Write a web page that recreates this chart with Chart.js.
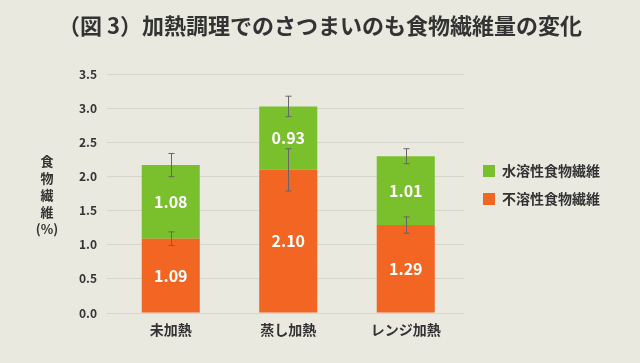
<!DOCTYPE html>
<html><head><meta charset="utf-8">
<script src="https://cdn.jsdelivr.net/npm/chart.js@4/dist/chart.umd.min.js"></script>
<style>html,body{margin:0;padding:0;background:#e9e9e0;overflow:hidden}</style>
</head><body><canvas id="c" width="640" height="363"></canvas>
<script>
const titleText = '（図 3）加熱調理でのさつまいのも食物繊維量の変化';
const categories = ['未加熱', '蒸し加熱', 'レンジ加熱'];
const insoluble = [1.09, 2.10, 1.29];
const soluble = [1.08, 0.93, 1.01];
const insolubleErr = [0.10, 0.31, 0.12];
const solubleErr = [0.17, 0.15, 0.11];
const seriesNames = ['不溶性食物繊維', '水溶性食物繊維'];
const yAxisTitle = ['食', '物', '繊', '維', '(%)'];
const yMin = 0, yMax = 3.5, yStep = 0.5;

const FONT = '"Noto Sans CJK JP", "Noto Sans", sans-serif';
const TEXT = '#333333';
const GREEN = '#7abf2c';
const ORANGE = '#f26522';

const errorBars = {
  id: 'errorBars',
  afterDatasetsDraw(chart) {
    const ctx = chart.ctx, ys = chart.scales.y;
    const errs = [insolubleErr, solubleErr];
    ctx.save();
    ctx.strokeStyle = '#666';
    ctx.lineWidth = 1;
    chart.data.datasets.forEach((ds, di) => {
      const meta = chart.getDatasetMeta(di);
      meta.data.forEach((el, i) => {
        let top = 0;
        for (let k = 0; k <= di; k++) top += chart.data.datasets[k].data[i];
        const e = errs[di][i];
        const y1 = ys.getPixelForValue(top + e), y2 = ys.getPixelForValue(top - e);
        const x = Math.round(el.x) + 0.5;
        ctx.beginPath();
        ctx.moveTo(x, y1); ctx.lineTo(x, y2);
        ctx.moveTo(x - 3, y1); ctx.lineTo(x + 3, y1);
        ctx.moveTo(x - 3, y2); ctx.lineTo(x + 3, y2);
        ctx.stroke();
      });
    });
    ctx.restore();
  }
};

const barLabels = {
  id: 'barLabels',
  afterDatasetsDraw(chart) {
    const ctx = chart.ctx;
    ctx.save();
    ctx.fillStyle = '#ffffff';
    ctx.font = 'bold 16px ' + FONT;
    ctx.textAlign = 'center';
    ctx.textBaseline = 'middle';
    chart.data.datasets.forEach((ds, di) => {
      chart.getDatasetMeta(di).data.forEach((el, i) => {
        ctx.fillText(ds.data[i].toFixed(2), el.x, (el.y + el.base) / 2);
      });
    });
    ctx.restore();
  }
};

const yTitle = {
  id: 'yTitle',
  afterDraw(chart) {
    const ctx = chart.ctx;
    ctx.save();
    ctx.fillStyle = TEXT;
    ctx.font = 'bold 13px ' + FONT;
    ctx.textAlign = 'center';
    ctx.textBaseline = 'middle';
    yAxisTitle.forEach((t, i) => ctx.fillText(t, 47, 161 + i * 17));
    ctx.restore();
  }
};

new Chart(document.getElementById('c'), {
  type: 'bar',
  data: {
    labels: categories,
    datasets: [
      { label: seriesNames[0], data: insoluble, backgroundColor: ORANGE, stack: 's' },
      { label: seriesNames[1], data: soluble, backgroundColor: GREEN, stack: 's' }
    ]
  },
  options: {
    responsive: false,
    animation: false,
    devicePixelRatio: 1,
    datasets: { bar: { categoryPercentage: 1.0, barPercentage: 0.494 } },
    layout: { padding: { top: 7, right: 30, bottom: 0, left: 30 } },
    plugins: {
      title: {
        display: true, text: titleText, color: TEXT,
        font: { family: FONT, size: 22, weight: 'bold' },
        padding: { top: 5, bottom: 36 }
      },
      legend: {
        position: 'right', align: 'center', reverse: true, maxWidth: 200,
        labels: {
          boxWidth: 12, boxHeight: 12, padding: 14, color: TEXT,
          font: { family: FONT, size: 14, weight: 'bold' }
        }
      },
      tooltip: { enabled: false }
    },
    scales: {
      x: {
        stacked: true,
        grid: { display: false, drawTicks: false },
        border: { display: false },
        ticks: { color: TEXT, padding: 8, font: { family: FONT, size: 14, weight: 'bold' } },
        afterFit(s) { s.height = 50; }
      },
      y: {
        stacked: true, min: yMin, max: yMax,
        grid: { color: '#d6d6cd', lineWidth: 1, drawTicks: true, tickLength: 5 },
        border: { display: false },
        ticks: {
          stepSize: yStep, padding: 10, color: TEXT,
          font: { family: FONT, size: 12, weight: 'bold' },
          callback: v => Number(v).toFixed(1)
        },
        afterFit(s) { s.width = 82; }
      },
      yR: {
        position: 'right', display: true,
        grid: { display: false, drawTicks: false },
        border: { display: false },
        ticks: { display: false },
        afterFit(s) { s.width = 4.5; }
      }
    }
  },
  plugins: [errorBars, barLabels, yTitle]
});
</script>
</body></html>
